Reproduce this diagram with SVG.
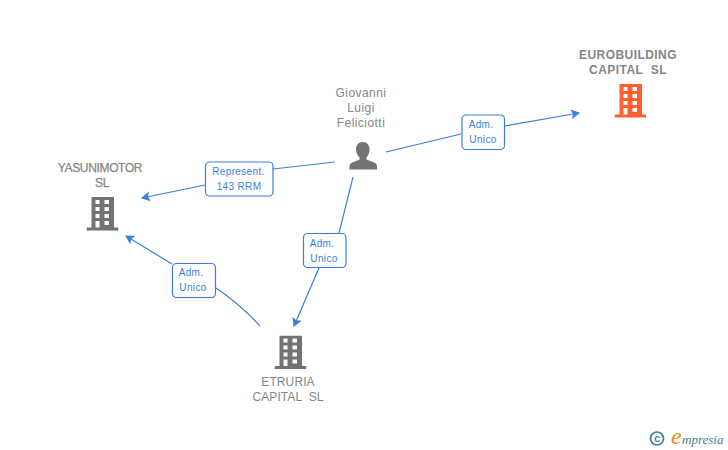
<svg xmlns="http://www.w3.org/2000/svg" width="728" height="450" viewBox="0 0 728 450">
<style>
.n{font:12px "Liberation Sans",Arial,sans-serif;fill:#858585;text-anchor:middle;letter-spacing:.45px;white-space:pre}
.b{font-weight:bold}
.t{letter-spacing:.1px}
.y{letter-spacing:-.35px;stroke:#858585;stroke-width:.25px}
.l{font:10px "Liberation Sans",Roboto,sans-serif;fill:#3a7fdc;text-anchor:middle;letter-spacing:.35px}
.c{fill:none;stroke:#3a7fdc;stroke-width:1.2}
.box{fill:#fff;stroke:#3a7fdc;stroke-width:1.2}
</style>
<defs>
<marker id="a" markerUnits="userSpaceOnUse" markerWidth="12" markerHeight="12" refX="8" refY="5" orient="auto"><path d="M0 0L9 5L0 10L2 5Z" fill="#3a7fdc"/></marker>
<symbol id="bld" viewBox="0 0 32 34" width="32" height="34">
<path fill-rule="evenodd" d="M5 0H27.500V30.500H32V33.500H0V30.500H5ZM9 3V7H13V3ZM18 3V7H22.500V3ZM9 10V14H13V10ZM18 10V14H22.500V10ZM9 17V21H13V17ZM18 17V21H22.500V17ZM9 24V30.500H13V24ZM18 24V28H22.500V24Z"/>
</symbol>
</defs>
<rect width="728" height="450" fill="#fff"/>
<g id="connectors">
<path class="c" d="M386 152L461 134"/><path class="c" d="M505 126L579 113" marker-end="url(#a)"/>
<path class="c" d="M335 162L273 169"/><path class="c" d="M205 185L142 198" marker-end="url(#a)"/>
<path class="c" d="M353 177L339 233"/><path class="c" d="M319 268L294 326" marker-end="url(#a)"/>
<path class="c" d="M260 326Q240 304 216 288"/><path class="c" d="M172 264L126 236" marker-end="url(#a)"/>
<rect class="box" x="462" y="115" width="42.500" height="34.500" rx="4"/>
<text class="l" x="481" y="128">Adm.</text><text class="l" x="483" y="143">Unico</text>
<rect class="box" x="205.500" y="162" width="67.500" height="34" rx="4"/>
<text class="l" x="238.500" y="175">Represent.</text><text class="l" x="239" y="190">143 RRM</text>
<rect class="box" x="303.500" y="233.500" width="42.500" height="34" rx="4"/>
<text class="l" x="322" y="247">Adm.</text><text class="l" x="324" y="262">Unico</text>
<rect class="box" x="172.500" y="263.500" width="43" height="34" rx="4"/>
<text class="l" x="191" y="276">Adm.</text><text class="l" x="193" y="291">Unico</text>
</g>
<g id="eurobuilding">
<text class="n b" x="628" y="59">EUROBUILDING</text><text class="n b" x="628" y="74">CAPITAL  SL</text>
<use href="#bld" x="614.500" y="84" fill="#ff5f33"/>
</g>
<g id="giovanni">
<text class="n" x="361" y="97">Giovanni</text><text class="n" x="361" y="112">Luigi</text><text class="n" x="361" y="127">Feliciotti</text>
<path fill="#737373" d="M362.700 142C367 142 369.500 145 369.500 149.500C369.500 153 368 156 366.500 157.500V159.500C370 161.500 377 162 377 166V169.500H349.500V166C349.500 162 356.500 161.500 359.500 159.500V157.500C358 156 356 153 356 149.500C356 145 358.500 142 362.700 142Z"/>
</g>
<g id="yasunimotor">
<text class="n y" x="100" y="172">YASUNIMOTOR</text><text class="n y" x="102" y="187">SL</text>
<use href="#bld" x="86.500" y="197" fill="#737373"/>
</g>
<g id="etruria">
<use href="#bld" x="274.500" y="335.500" fill="#737373"/>
<text class="n t" x="288" y="386">ETRURIA</text><text class="n t" x="288" y="401">CAPITAL  SL</text>
</g>
<g id="empresia">
<circle cx="657" cy="438.500" r="6.500" fill="none" stroke="#3f7f95" stroke-width="1.700"/>
<text x="657" y="442" font-family="Liberation Sans,sans-serif" font-size="10" font-weight="bold" fill="#3f7f95" text-anchor="middle">c</text>
<text x="671" y="444" font-family="Liberation Serif,serif" font-style="italic" font-size="24" fill="#f08a1c">e</text>
<text x="682" y="444" font-family="Liberation Serif,serif" font-style="italic" font-size="13" fill="#3f7f95">mpresia</text>
</g>
</svg>
